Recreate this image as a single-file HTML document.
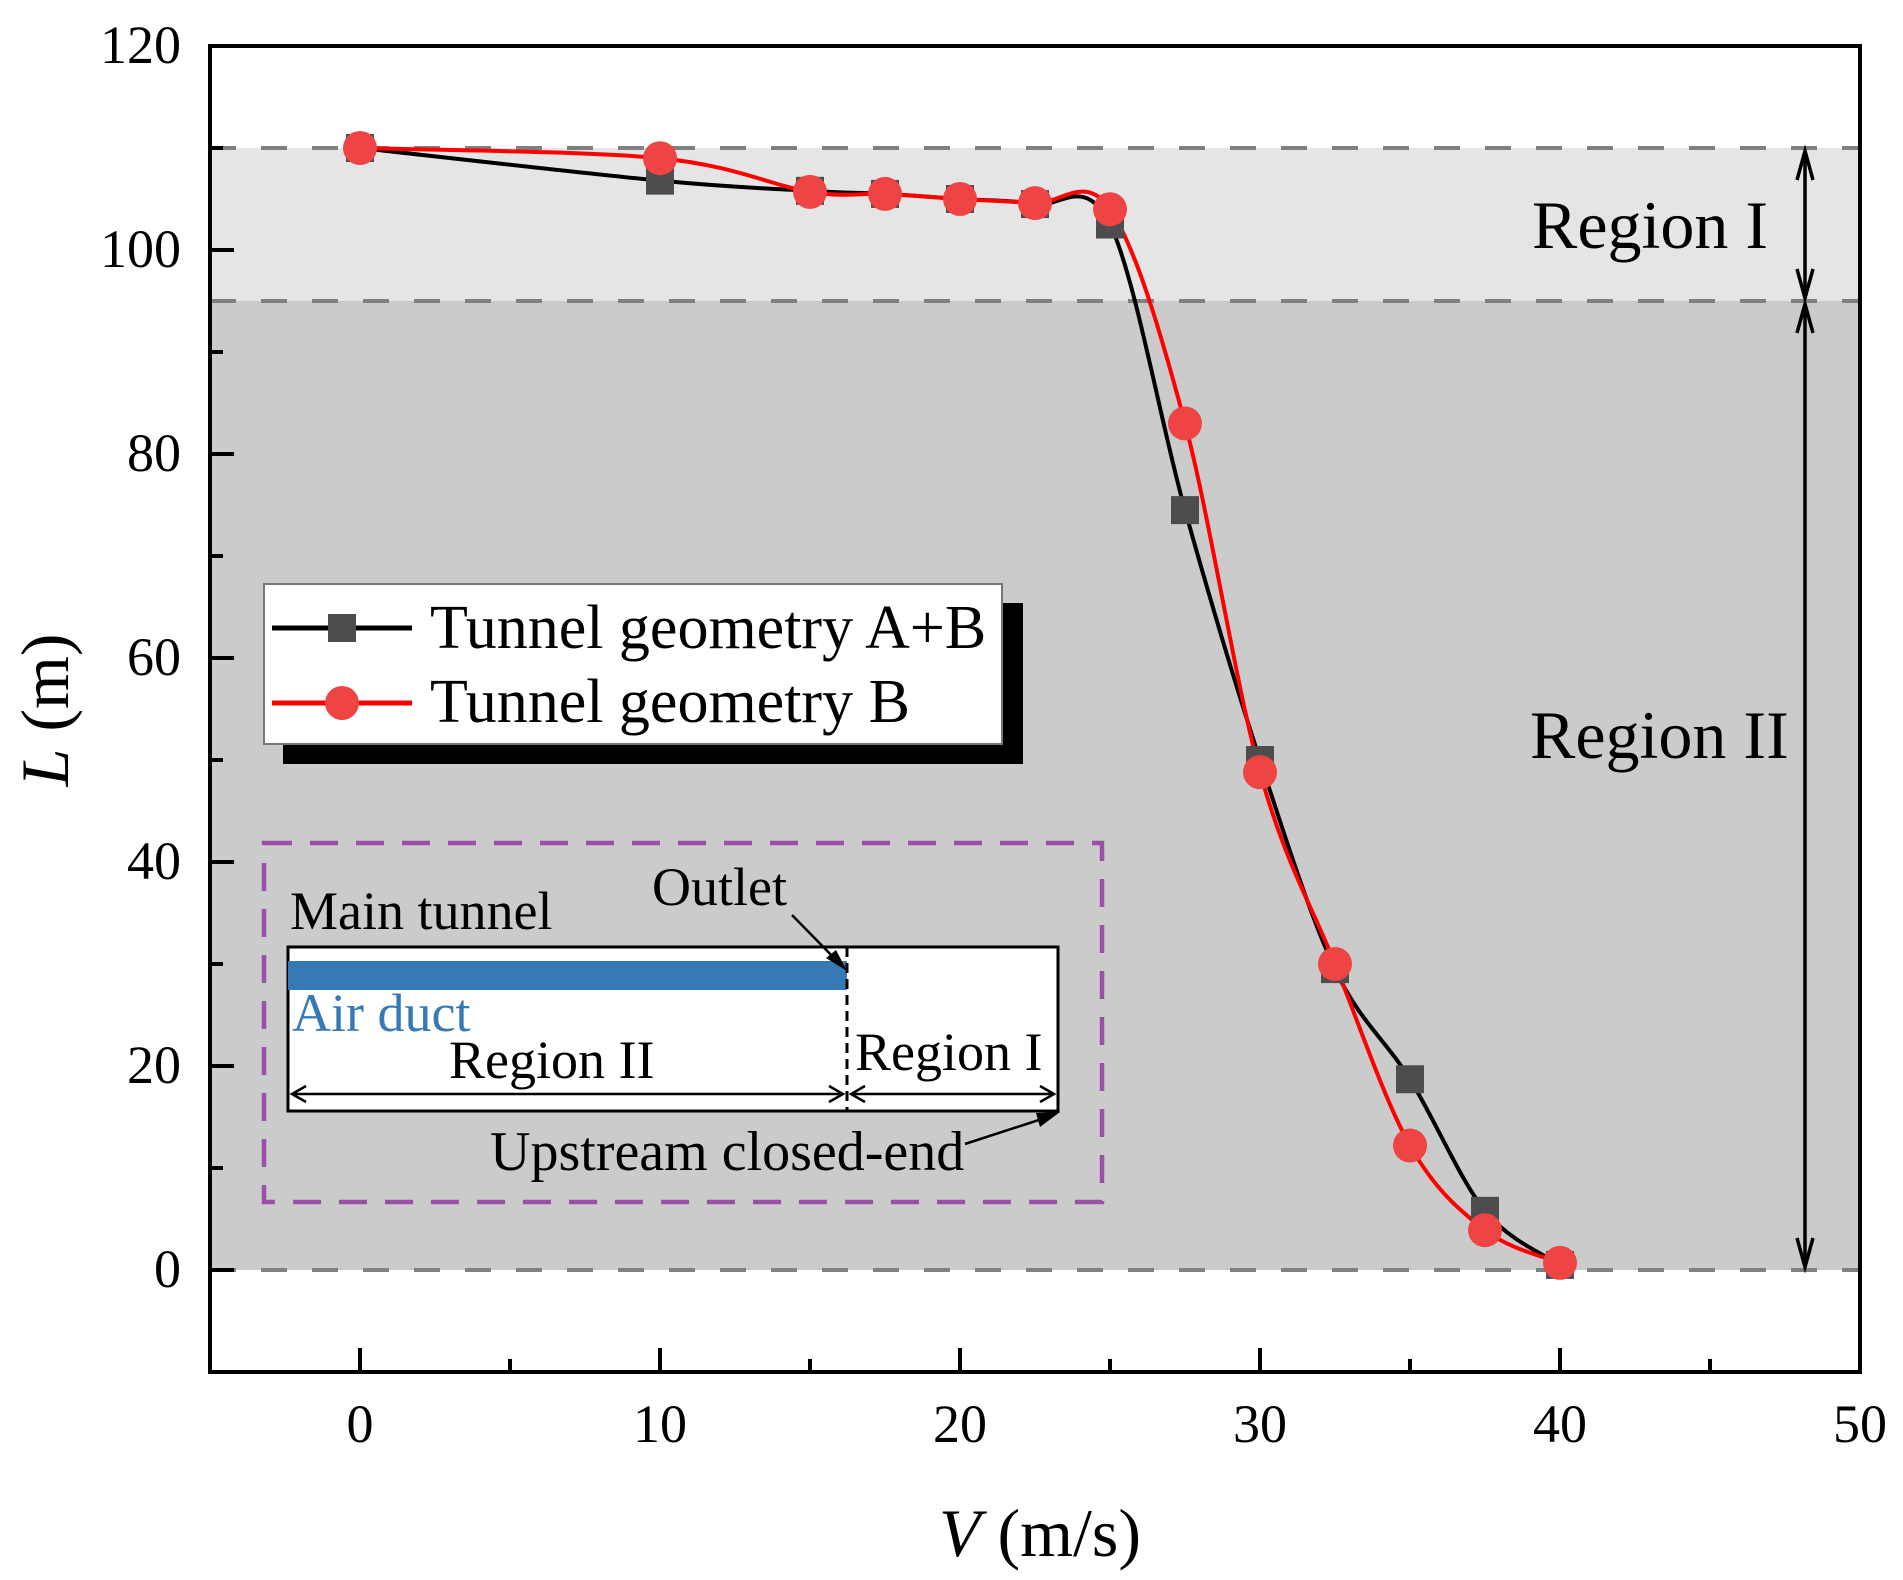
<!DOCTYPE html>
<html><head><meta charset="utf-8"><style>
html,body{margin:0;padding:0;background:#fff;}
svg{display:block;font-family:"Liberation Serif","Times New Roman",serif;}
</style></head><body>
<svg id="chart" width="1903" height="1580" viewBox="0 0 1903 1580" xmlns="http://www.w3.org/2000/svg">
<g id="bg"></g>
<g id="axes"></g>
<g id="series"></g>
<g id="legend">
  <rect x="283" y="603" width="740" height="161" fill="#000"/>
  <rect x="264" y="584" width="738" height="160" fill="#fff" stroke="#777" stroke-width="2"/>
  <line x1="272" y1="628" x2="412" y2="628" stroke="#000" stroke-width="5"/>
  <rect x="328" y="614" width="28" height="28" fill="#4d4d4d"/>
  <text x="430" y="648" font-size="62">Tunnel geometry A+B</text>
  <line x1="272" y1="703" x2="412" y2="703" stroke="#ff0000" stroke-width="5"/>
  <circle cx="342" cy="703" r="17" fill="#ef4444"/>
  <text x="430" y="722" font-size="62">Tunnel geometry B</text>
</g>
<g id="inset">
  <rect x="264" y="843" width="838" height="359" fill="none" stroke="#9b4fa8" stroke-width="4.5" stroke-dasharray="28,18"/>
  <rect x="288" y="947" width="770" height="164" fill="#fff" stroke="#000" stroke-width="3"/>
  <rect x="288" y="961" width="559" height="29" fill="#3779b5"/>
  <line x1="847" y1="947" x2="847" y2="1111" stroke="#000" stroke-width="3" stroke-dasharray="10,6"/>
  <text x="290" y="929" font-size="54">Main tunnel</text>
  <text x="652" y="905" font-size="54">Outlet</text>
  <line x1="792" y1="915" x2="840" y2="964" stroke="#000" stroke-width="2.5"/>
  <polygon points="847,971 826,958 836,950" fill="#000"/>
  <text x="292" y="1031" font-size="54" fill="#3779b5">Air duct</text>
  <text x="449" y="1078" font-size="54">Region II</text>
  <text x="855" y="1070" font-size="54">Region I</text>
  <line x1="292" y1="1094" x2="843" y2="1094" stroke="#000" stroke-width="2.5"/>
  <path d="M306,1086 L292,1094 L306,1102 M829,1086 L843,1094 L829,1102" fill="none" stroke="#000" stroke-width="2.5"/>
  <line x1="851" y1="1094" x2="1054" y2="1094" stroke="#000" stroke-width="2.5"/>
  <path d="M865,1086 L851,1094 L865,1102 M1040,1086 L1054,1094 L1040,1102" fill="none" stroke="#000" stroke-width="2.5"/>
  <text x="490" y="1170" font-size="56">Upstream closed-end</text>
  <line x1="965" y1="1144" x2="1045" y2="1118" stroke="#000" stroke-width="2.5"/>
  <polygon points="1060,1112 1040,1127 1036,1113" fill="#000"/>
</g>
<g id="annot">
  <text x="1532" y="248" font-size="68">Region I</text>
  <text x="1530" y="758" font-size="68">Region II</text>
</g>
<text x="1040" y="1556" font-size="68" text-anchor="middle"><tspan font-style="italic">V</tspan> (m/s)</text>
<text transform="translate(68,710) rotate(-90)" font-size="68" text-anchor="middle"><tspan font-style="italic">L</tspan> (m)</text>
</svg>
<script>
const velocities = [0, 10, 15, 17.5, 20, 22.5, 25, 27.5, 30, 32.5, 35, 37.5, 40];
const lengthAB = [110, 106.8, 105.8, 105.5, 105, 104.5, 102.5, 74.5, 50, 29.5, 18.7, 5.8, 0.5];
const lengthB = [110, 109, 105.7, 105.5, 105, 104.6, 104, 83, 48.8, 30, 12.2, 3.9, 0.7];
const xTicks = [0, 10, 20, 30, 40, 50];
const yTicks = [0, 20, 40, 60, 80, 100, 120];
const regionBounds = [110, 95, 0];

const NS = 'http://www.w3.org/2000/svg';
const X0 = 210, X1 = 1860, Y0 = 46, Y1 = 1372;
const xMin = -5, xMax = 50, yMin = -10, yMax = 120;
function sx(v){ return X0 + (v - xMin) / (xMax - xMin) * (X1 - X0); }
function sy(v){ return Y1 - (v - yMin) / (yMax - yMin) * (Y1 - Y0); }
function mk(tag, attrs, parent){ const e = document.createElementNS(NS, tag); for (const k in attrs) e.setAttribute(k, attrs[k]); parent.appendChild(e); return e; }

const bg = document.getElementById('bg');
let b1 = mk('rect', {x: X0, y: sy(regionBounds[0]), width: X1 - X0, height: sy(regionBounds[1]) - sy(regionBounds[0]), fill: '#e5e5e5'}, bg);


let b2 = mk('rect', {x: X0, y: sy(regionBounds[1]), width: X1 - X0, height: sy(regionBounds[2]) - sy(regionBounds[1]), fill: '#cbcbcb'}, bg);


regionBounds.forEach(v => {
  const l = mk('line', {x1: X0, x2: X1, y1: sy(v), y2: sy(v), stroke: '#808080', 'stroke-width': 4, 'stroke-dasharray': '26,25'}, bg);
  
  
});
function vArrow(yA, yB, name){
  const g = mk('g', {}, bg);
  
  
  const x = 1805;
  mk('line', {x1: x, x2: x, y1: yA + 3, y2: yB - 3, stroke: '#000', 'stroke-width': 3.5}, g);
  mk('path', {d: `M${x-8},${yA+32} L${x},${yA+3} L${x+8},${yA+32}`, fill: 'none', stroke: '#000', 'stroke-width': 3.5}, g);
  mk('path', {d: `M${x-8},${yB-32} L${x},${yB-3} L${x+8},${yB-32}`, fill: 'none', stroke: '#000', 'stroke-width': 3.5}, g);
}
vArrow(sy(110), sy(95), 'region-i-arrow');
vArrow(sy(95), sy(0), 'region-ii-arrow');

const ax = document.getElementById('axes');
let frame = mk('rect', {x: X0, y: Y0, width: X1 - X0, height: Y1 - Y0, fill: 'none', stroke: '#000', 'stroke-width': 4}, ax);


for (let v = 0; v <= 45; v += 5) {
  const major = v % 10 === 0;
  const t = mk('line', {x1: sx(v), x2: sx(v), y1: Y1, y2: Y1 - (major ? 24 : 13), stroke: '#000', 'stroke-width': 4}, ax);
  
  
}
for (let v = 0; v <= 110; v += 10) {
  const major = v % 20 === 0;
  const t = mk('line', {x1: X0, x2: X0 + (major ? 24 : 13), y1: sy(v), y2: sy(v), stroke: '#000', 'stroke-width': 4}, ax);
  
  
}
xTicks.forEach(v => {
  const t = mk('text', {x: sx(v), y: 1442, 'font-size': 54, 'text-anchor': 'middle'}, ax);
  t.textContent = v;
  
  
});
yTicks.forEach(v => {
  const t = mk('text', {x: 181, y: sy(v) + 17, 'font-size': 54, 'text-anchor': 'end'}, ax);
  t.textContent = v;
  
  
});

function smoothPath(xs, ys){
  const p = xs.map((v, i) => [sx(v), sy(ys[i])]);
  let d = `M${p[0][0]},${p[0][1]}`;
  for (let i = 0; i < p.length - 1; i++) {
    const a = p[Math.max(0, i - 1)], b = p[i], c = p[i + 1], e = p[Math.min(p.length - 1, i + 2)];
    const c1 = [b[0] + (c[0] - a[0]) / 6, b[1] + (c[1] - a[1]) / 6];
    const c2 = [c[0] - (e[0] - b[0]) / 6, c[1] - (e[1] - b[1]) / 6];
    d += ` C${c1[0]},${c1[1]} ${c2[0]},${c2[1]} ${c[0]},${c[1]}`;
  }
  return d;
}
const se = document.getElementById('series');
let lab = mk('path', {d: smoothPath(velocities, lengthAB), fill: 'none', stroke: '#000', 'stroke-width': 4}, se);


let lb = mk('path', {d: smoothPath(velocities, lengthB), fill: 'none', stroke: '#ff0000', 'stroke-width': 4}, se);


velocities.forEach((v, i) => {
  const r = mk('rect', {x: sx(v) - 14, y: sy(lengthAB[i]) - 14, width: 28, height: 28, fill: '#4d4d4d'}, se);
  
  
});
velocities.forEach((v, i) => {
  const c = mk('circle', {cx: sx(v), cy: sy(lengthB[i]), r: 17, fill: '#ef4444'}, se);
  
  
});
</script>
</body></html>
